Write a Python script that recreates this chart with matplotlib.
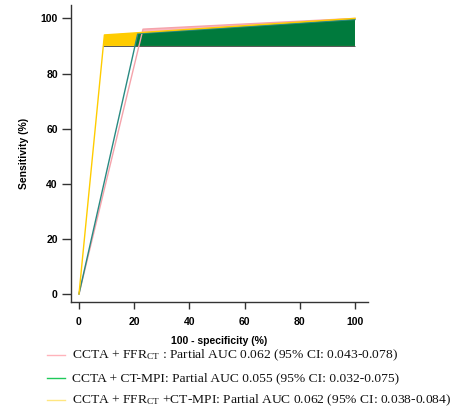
import matplotlib

matplotlib.use("Agg")
import matplotlib.pyplot as plt
from matplotlib.lines import Line2D

# ROC points (100 - specificity, sensitivity)
spec_ffr = [0, 23.2, 100]
sens_ffr = [0, 96.1, 100]
spec_mpi = [0, 21.3, 100]
sens_mpi = [0, 94.5, 99.6]
spec_all = [0, 9.2, 100]
sens_all = [0, 94.0, 100]
pauc_low = 90

xticks = [0, 20, 40, 60, 80, 100]
yticks = [0, 20, 40, 60, 80, 100]

legend_labels = [
    r"CCTA + FFR$_{\mathrm{CT}}$ : Partial AUC 0.062 (95% CI: 0.043-0.078)",
    "CCTA + CT-MPI: Partial AUC 0.055 (95% CI: 0.032-0.075)",
    r"CCTA + FFR$_{\mathrm{CT}}$ +CT-MPI: Partial AUC 0.062 (95% CI: 0.038-0.084)",
]

C_PINK_LINE = "#f5a3ab"
C_PINK_FILL = "#fbb7c2"
C_TEAL = "#2a8a82"
C_GREEN = "#007a3d"
C_YELLOW = "#ffcc00"
LEG_COLORS = ["#ffb3bb", "#1fc95a", "#ffe680"]

plt.rcParams["mathtext.fontset"] = "custom"
plt.rcParams["mathtext.rm"] = "Liberation Serif"
plt.rcParams["mathtext.it"] = "Liberation Serif:italic"
plt.rcParams["mathtext.bf"] = "Liberation Serif:bold"


def crossing(spec, sens, level):
    # x where the first segment reaches the given sensitivity
    return spec[0] + (spec[1] - spec[0]) * (level - sens[0]) / (sens[1] - sens[0])


def shade(ax, spec, sens, color):
    x0 = crossing(spec, sens, pauc_low)
    xs = [x0] + spec[1:] + [spec[-1]]
    ys = [pauc_low] + sens[1:] + [pauc_low]
    ax.fill(xs, ys, color=color, lw=0, zorder=1)


fig = plt.figure(figsize=(4.64, 4.08), dpi=100, facecolor="white")
ax = fig.add_axes([0.153, 0.260, 0.640, 0.728])

shade(ax, spec_ffr, sens_ffr, C_PINK_FILL)
shade(ax, spec_all, sens_all, C_YELLOW)
shade(ax, spec_mpi, sens_mpi, C_GREEN)
ax.hlines(pauc_low, crossing(spec_all, sens_all, pauc_low), 100, color="#555555", lw=0.7, zorder=2)

ax.plot(spec_ffr, sens_ffr, color=C_PINK_LINE, lw=1.0, zorder=3, clip_on=False)
ax.plot(spec_mpi, sens_mpi, color=C_TEAL, lw=1.0, zorder=3, clip_on=False)
ax.plot(spec_all, sens_all, color=C_YELLOW, lw=1.0, zorder=3, clip_on=False)

ax.set_xlim(-2.9, 104.7)
ax.set_ylim(-2.9, 104.9)
ax.set_xticks(xticks)
ax.set_yticks(yticks)
ax.spines[["top", "right"]].set_visible(False)
for s in ["left", "bottom"]:
    ax.spines[s].set_linewidth(1.0)
    ax.spines[s].set_color("#333333")
ax.tick_params(axis="x", length=5, width=1.0, pad=6, color="#333333")
ax.tick_params(axis="y", length=6.5, width=1.0, pad=3, color="#333333")
for lab in ax.get_xticklabels() + ax.get_yticklabels():
    lab.set_fontfamily("Liberation Sans")
    lab.set_fontweight("bold")
    lab.set_fontsize(7.5)

ax.set_xlabel("100 - specificity (%)", fontfamily="Liberation Sans", fontweight="bold",
              fontsize=7.5, labelpad=6)
ax.set_ylabel("Sensitivity (%)", fontfamily="Liberation Sans", fontweight="bold",
              fontsize=7.5, labelpad=8)

ys_px = [355, 378, 400]
for yp, label, col in zip(ys_px, legend_labels, LEG_COLORS):
    yf = 1 - yp / 408
    fig.add_artist(Line2D([47 / 464, 65 / 464], [yf, yf], color=col, lw=1.0))
    fig.text(72 / 464, yf, label, fontfamily="Liberation Serif", fontsize=9.7,
             ha="left", va="center", color="#111111")

fig.savefig("out.png", dpi=100)
